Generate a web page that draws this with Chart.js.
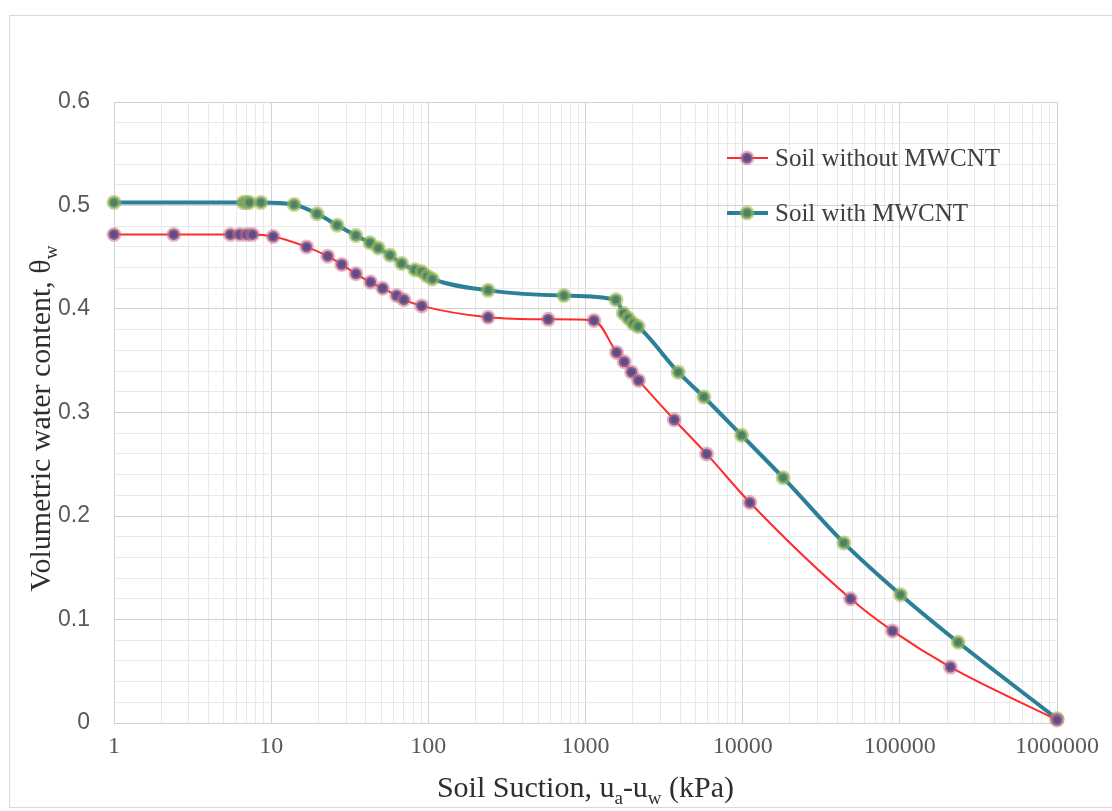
<!DOCTYPE html>
<html>
<head>
<meta charset="utf-8">
<title>Soil-water characteristic curves</title>
<script src="https://cdn.jsdelivr.net/npm/chart.js@4"></script>
<style>
  html, body { margin: 0; padding: 0; background: #fff; }
  #wrap { position: relative; width: 1112px; height: 811px; }
</style>
</head>
<body>
<div id="wrap"><canvas id="swcc" width="1112" height="811"></canvas></div>
<script>
// suction (kPa) and volumetric water content for each soil
var suctionPlain = [1, 2.4, 5.5, 6.3, 7, 7.6, 10.3, 16.8, 22.9, 28.1, 34.6, 42.9, 51.2, 62.8, 69.9, 90.6,
    240, 579, 1131, 1577, 1763, 1964, 2176, 3668, 5894, 11110, 48600, 89800, 210000, 1000000];
var thetaPlain = [0.472, 0.472, 0.472, 0.472, 0.472, 0.472, 0.470, 0.460, 0.451, 0.443, 0.434, 0.426, 0.420, 0.413, 0.409, 0.403,
    0.392, 0.390, 0.389, 0.358, 0.349, 0.339, 0.331, 0.293, 0.260, 0.213, 0.120, 0.089, 0.054, 0.003];

var suctionCnt = [1, 6.65, 6.98, 7.26, 8.6, 14, 19.6, 26.3, 34.6, 42.5, 48, 57, 67.6, 82, 91, 98, 106,
    240, 729, 1561, 1738, 1871, 2010, 2163, 3890, 5665, 9840, 18100, 44000, 101000, 235000, 1000000];
var thetaCnt = [0.503, 0.503, 0.503, 0.503, 0.503, 0.501, 0.492, 0.481, 0.471, 0.464, 0.459, 0.452, 0.444, 0.438, 0.436, 0.432, 0.429,
    0.418, 0.413, 0.409, 0.396, 0.391, 0.386, 0.383, 0.339, 0.315, 0.278, 0.237, 0.174, 0.124, 0.078, 0.004];

var seriesNames = ['Soil without MWCNT', 'Soil with MWCNT'];
var xDecades = [1, 10, 100, 1000, 10000, 100000, 1000000];
var yLabels = [0, 0.1, 0.2, 0.3, 0.4, 0.5, 0.6];

var serif = '"Liberation Serif", "Times New Roman", serif';
var sans = '"Liberation Sans", Arial, sans-serif';

var styles = [
    { line: '#ff2b2b', width: 2, fill: '#5a4d88', ring: 'rgba(205,110,140,0.5)' },
    { line: '#2b7f96', width: 4, fill: '#4d7f6a', ring: 'rgba(150,185,85,0.6)' }
];

function pairs(xs, ys) {
    return xs.map(function (x, i) { return { x: x, y: ys[i] }; });
}

function isDecade(v) {
    var l = Math.log10(v);
    return Math.abs(l - Math.round(l)) < 1e-9;
}

function isTenth(v) {
    return Math.abs(v * 10 - Math.round(v * 10)) < 1e-6;
}

// text with a lowered, smaller run for subscripts; parts = [[text, isSub], ...]
function drawRich(ctx, parts, cx, cy, size) {
    var subSize = Math.round(size * 0.62);
    var total = 0;
    parts.forEach(function (p) {
        ctx.font = (p[1] ? subSize : size) + 'px ' + serif;
        total += ctx.measureText(p[0]).width;
    });
    var x = cx - total / 2;
    ctx.textAlign = 'left';
    ctx.textBaseline = 'alphabetic';
    parts.forEach(function (p) {
        ctx.font = (p[1] ? subSize : size) + 'px ' + serif;
        ctx.fillText(p[0], x, cy + (p[1] ? size * 0.22 : 0));
        x += ctx.measureText(p[0]).width;
    });
}

function drawMarker(ctx, x, y, st) {
    ctx.beginPath();
    ctx.arc(x, y, 5.5, 0, Math.PI * 2);
    ctx.fillStyle = st.fill;
    ctx.fill();
    ctx.lineWidth = 4;
    ctx.strokeStyle = st.ring;
    ctx.stroke();
}

var decorations = {
    id: 'decorations',
    beforeDraw: function (chart) {
        var ctx = chart.ctx;
        ctx.save();
        ctx.fillStyle = '#fff';
        ctx.fillRect(0, 0, chart.width, chart.height);
        ctx.strokeStyle = '#d9d9d9';
        ctx.lineWidth = 1;
        ctx.strokeRect(9.5, 15.5, 1120, 792);
        ctx.restore();
    },
    afterDraw: function (chart) {
        var ctx = chart.ctx;
        var area = chart.chartArea;
        ctx.save();
        ctx.fillStyle = '#2e2e2e';

        // axis titles
        drawRich(ctx, [['Soil Suction, u', false], ['a', true], ['-u', false], ['w', true], [' (kPa)', false]],
            (area.left + area.right) / 2, 797, 30);
        ctx.save();
        ctx.translate(50, (area.top + area.bottom) / 2 + 6);
        ctx.rotate(-Math.PI / 2);
        drawRich(ctx, [['Volumetric water content, \u03b8', false], ['w', true]], 0, 0, 30);
        ctx.restore();

        // legend
        var lx = 727, rows = [158, 213];
        styles.forEach(function (st, i) {
            var y = rows[i];
            ctx.beginPath();
            ctx.moveTo(lx, y);
            ctx.lineTo(lx + 41, y);
            ctx.strokeStyle = st.line;
            ctx.lineWidth = st.width;
            ctx.stroke();
            drawMarker(ctx, lx + 20, y, st);
            ctx.fillStyle = '#404040';
            ctx.font = '25px ' + serif;
            ctx.textAlign = 'left';
            ctx.textBaseline = 'middle';
            ctx.fillText(seriesNames[i], lx + 48, y + 1);
        });
        ctx.restore();
    }
};

function makeSet(label, data, st) {
    return {
        label: label,
        data: data,
        borderColor: st.line,
        borderWidth: st.width,
        backgroundColor: st.fill,
        pointRadius: 5.5,
        pointBorderWidth: 4,
        pointBackgroundColor: st.fill,
        pointBorderColor: st.ring,
        pointHoverRadius: 5.5,
        cubicInterpolationMode: 'monotone',
        clip: false
    };
}

var ctx = document.getElementById('swcc').getContext('2d');
new Chart(ctx, {
    type: 'line',
    data: {
        datasets: [
            makeSet(seriesNames[0], pairs(suctionPlain, thetaPlain), styles[0]),
            makeSet(seriesNames[1], pairs(suctionCnt, thetaCnt), styles[1])
        ]
    },
    options: {
        responsive: false,
        animation: false,
        devicePixelRatio: 1,
        layout: { padding: { top: 102, right: 55, left: 0, bottom: 0 } },
        plugins: {
            legend: { display: false },
            tooltip: { enabled: false }
        },
        scales: {
            x: {
                type: 'logarithmic',
                min: xDecades[0],
                max: xDecades[xDecades.length - 1],
                afterBuildTicks: function (scale) {
                    var ticks = [];
                    for (var d = 0; d < xDecades.length - 1; d++) {
                        for (var m = 1; m < 10; m++) ticks.push({ value: m * xDecades[d] });
                    }
                    ticks.push({ value: xDecades[xDecades.length - 1] });
                    scale.ticks = ticks;
                },
                afterFit: function (scale) { scale.height = 88; },
                grid: {
                    drawTicks: false,
                    color: function (c) {
                        return c.tick && isDecade(c.tick.value) ? '#d2d2d2' : '#e9e9e9';
                    }
                },
                border: { color: '#d2d2d2' },
                ticks: {
                    autoSkip: false,
                    maxRotation: 0,
                    padding: 9,
                    color: '#595959',
                    font: { family: serif, size: 24 },
                    callback: function (v) { return isDecade(v) ? String(Math.round(v)) : ''; }
                }
            },
            y: {
                type: 'linear',
                min: yLabels[0],
                max: yLabels[yLabels.length - 1],
                afterFit: function (scale) { scale.width = 114; },
                grid: {
                    drawTicks: false,
                    color: function (c) {
                        return c.tick && isTenth(c.tick.value) ? '#d2d2d2' : '#e9e9e9';
                    }
                },
                border: { color: '#d2d2d2' },
                ticks: {
                    stepSize: 0.02,
                    autoSkip: false,
                    padding: 24,
                    color: '#595959',
                    font: { family: sans, size: 23 },
                    callback: function (v) { return isTenth(v) ? String(Math.round(v * 10) / 10) : ''; }
                }
            }
        }
    },
    plugins: [decorations]
});
</script>
</body>
</html>
